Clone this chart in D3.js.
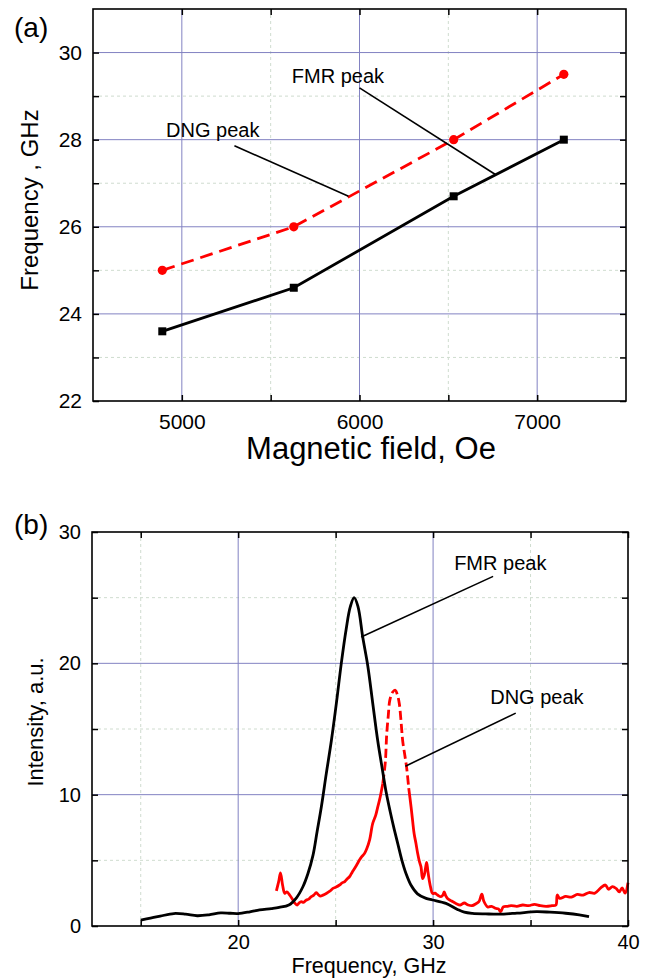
<!DOCTYPE html>
<html>
<head>
<meta charset="utf-8">
<script src="https://cdn.jsdelivr.net/npm/d3@7/dist/d3.min.js"></script>
<style>
  html, body { margin: 0; padding: 0; background: #fff; }
  svg { display: block; }
  text { font-family: "Liberation Sans", Arial, sans-serif; fill: #000; }
</style>
</head>
<body>
<svg id="chart" width="654" height="978"></svg>
<script>
// ---------- Panel (a): frequency vs magnetic field ----------
const fieldOe = [4890, 5630, 6530, 7150];
const fmrFreqA = [23.6, 24.6, 26.7, 28.0];
const dngFreqA = [25.0, 26.0, 28.0, 29.5];
const aXMajor = [5000, 6000, 7000];
const aXMinor = [5500, 6500];
const aYMajor = [22, 24, 26, 28, 30];
const aYMinor = [23, 25, 27, 29];

// ---------- Panel (b): spectra ----------
const fmrSpecFreq = [15.0, 15.5, 16.0, 16.7, 17.3, 17.9, 18.5, 19.1, 19.6, 20.0, 20.6, 21.1, 21.7, 22.1, 22.6, 22.99, 23.32, 23.58, 23.84, 24.05, 24.27, 24.52, 24.78, 25.05, 25.29, 25.54, 25.75, 25.95, 26.15, 26.39, 26.65, 26.9, 27.16, 27.4, 27.59, 27.8, 28.0, 28.2, 28.4, 28.61, 28.87, 29.2, 29.64, 29.97, 30.66, 31.25, 31.6, 32.02, 32.7, 33.4, 34.3, 35.3, 36.0, 36.8, 37.5, 38.0];
const fmrSpecInt  = [0.45, 0.6, 0.75, 0.95, 0.9, 0.78, 0.85, 1.0, 0.97, 0.95, 1.08, 1.22, 1.33, 1.42, 1.6, 2.15, 2.99, 4.0, 5.4, 7.2, 9.1, 11.6, 14.1, 17.1, 20.0, 22.6, 24.3, 25.0, 24.3, 22.0, 19.8, 17.0, 14.1, 11.9, 10.2, 8.7, 7.4, 6.2, 5.0, 4.0, 3.1, 2.45, 2.1, 1.98, 1.72, 1.26, 1.05, 0.96, 0.92, 0.9, 0.98, 1.09, 1.05, 0.97, 0.85, 0.71];

const dngSpecFreq = [21.96, 22.08, 22.17, 22.28, 22.39, 22.5, 22.64, 22.81, 22.9, 23.02, 23.12, 23.24, 23.35, 23.5, 23.62, 23.75, 23.88, 24.0, 24.1, 24.21, 24.35, 24.52, 24.7, 24.86, 25.0, 25.2, 25.35, 25.46, 25.6, 25.71, 25.85, 25.97, 26.1, 26.22, 26.35, 26.48, 26.6, 26.75, 26.9, 27.05, 27.15, 27.25, 27.35, 27.42,
  27.55, 27.62, 27.7, 27.78, 27.92, 28.06, 28.17, 28.27, 28.36, 28.44, 28.55, 28.64, 28.75,
  28.87, 28.95, 29.03, 29.12, 29.2, 29.3, 29.38, 29.46, 29.55, 29.62, 29.67, 29.73, 29.8, 29.88, 29.97, 30.1, 30.23, 30.4, 30.5, 30.57, 30.65, 30.74, 30.95, 31.17, 31.4, 31.6, 31.8, 32.0, 32.2, 32.35, 32.5, 32.6, 32.8, 33.0, 33.2, 33.35, 33.47, 33.6, 33.8, 34.0, 34.3, 34.6, 34.9, 35.2, 35.5, 35.8, 36.1, 36.3, 36.37, 36.5, 36.8, 37.1, 37.4, 37.7, 38.0, 38.3, 38.6, 38.84, 39.0, 39.2, 39.4, 39.55, 39.7, 39.85, 40.0];
const dngSpecInt = [2.68, 3.4, 4.05, 3.1, 2.48, 2.6, 2.36, 1.98, 1.75, 1.6, 1.75, 1.85, 1.8, 1.98, 2.05, 2.23, 2.35, 2.53, 2.4, 2.28, 2.35, 2.48, 2.65, 2.86, 2.95, 3.12, 3.3, 3.37, 3.6, 3.75, 4.1, 4.38, 4.7, 5.02, 5.3, 5.52, 5.9, 6.6, 7.8, 8.4, 9.0, 9.58, 10.3, 10.85,
  12.5, 14.6, 16.0, 17.2, 17.8, 17.95, 17.6, 16.9, 15.5, 14.1, 13.0, 12.1, 10.5,
  9.07, 8.0, 7.0, 6.3, 5.6, 4.9, 4.5, 3.6, 3.9, 4.5, 4.85, 4.2, 3.5, 2.9, 2.48, 2.5, 2.36, 2.23, 2.35, 2.6, 2.3, 2.1, 1.9, 1.72, 1.6, 1.75, 1.6, 1.55, 1.7, 1.85, 2.43, 1.9, 1.45, 1.5, 1.35, 1.3, 1.09, 1.45, 1.5, 1.55, 1.5, 1.6, 1.55, 1.65, 1.55, 1.5, 1.55, 1.6, 2.36, 2.1, 2.25, 2.2, 2.4, 2.35, 2.55, 2.5, 2.9, 3.12, 2.8, 3.0, 2.85, 2.6, 2.9, 2.5, 3.3];
const dngDashFrom = 27.42, dngDashTo = 28.75;

const bXMajor = [20, 30, 40];
const bXMinor = [15, 25, 35];
const bYMajor = [0, 10, 20, 30];
const bYMinor = [5, 15, 25];

// annotations (data units)
const annA = [
  { text: "FMR peak", tx: 5619, ty: 29.29, x1: 6000, y1: 29.19, x2: 6765, y2: 27.2 },
  { text: "DNG peak", tx: 4911, ty: 28.05, x1: 5296, y1: 27.86, x2: 5938, y2: 26.70 }
];
const annB = [
  { text: "FMR peak", tx: 31.08, ty: 27.07, x1: 33.08, y1: 26.62, x2: 26.31, y2: 22.0 },
  { text: "DNG peak", tx: 32.93, ty: 16.93, x1: 34.24, y1: 16.21, x2: 28.58, y2: 12.17 }
];

const svg = d3.select("#chart");
const MAJOR = "#8282c2", MINOR = "#cfdccf";

function drawFrame(g, x, y, xMaj, xMin, yMaj, yMin, w, h) {
  const grid = g.append("g");
  grid.selectAll(".vmin").data(xMin).join("line")
    .attr("x1", d => x(d)).attr("x2", d => x(d)).attr("y1", 0).attr("y2", h)
    .attr("stroke", MINOR).attr("stroke-width", 1).attr("stroke-dasharray", "3,3");
  grid.selectAll(".hmin").data(yMin).join("line")
    .attr("x1", 0).attr("x2", w).attr("y1", d => y(d)).attr("y2", d => y(d))
    .attr("stroke", MINOR).attr("stroke-width", 1).attr("stroke-dasharray", "3,3");
  grid.selectAll(".vmaj").data(xMaj.filter(d => x(d) > 1 && x(d) < w - 1)).join("line")
    .attr("x1", d => x(d)).attr("x2", d => x(d)).attr("y1", 0).attr("y2", h)
    .attr("stroke", MAJOR).attr("stroke-width", 1);
  grid.selectAll(".hmaj").data(yMaj.filter(d => y(d) > 1 && y(d) < h - 1)).join("line")
    .attr("x1", 0).attr("x2", w).attr("y1", d => y(d)).attr("y2", d => y(d))
    .attr("stroke", MAJOR).attr("stroke-width", 1);
}

function drawAxes(g, x, y, xMaj, xMin, yMaj, yMin, w, h, fs, xPad) {
  const fmtX = d => xMaj.includes(d) ? d : "";
  const fmtY = d => yMaj.includes(d) ? d : "";
  const ax = [
    g.append("g").attr("transform", `translate(0,${h})`)
      .call(d3.axisBottom(x).tickValues(xMaj.concat(xMin)).tickSize(-6).tickPadding(xPad).tickFormat(fmtX)),
    g.append("g")
      .call(d3.axisTop(x).tickValues(xMaj.concat(xMin)).tickSize(-6).tickFormat("")),
    g.append("g")
      .call(d3.axisLeft(y).tickValues(yMaj.concat(yMin)).tickSize(-6).tickPadding(11).tickFormat(fmtY)),
    g.append("g").attr("transform", `translate(${w},0)`)
      .call(d3.axisRight(y).tickValues(yMaj.concat(yMin)).tickSize(-6).tickFormat(""))
  ];
  ax.forEach(a => {
    a.select(".domain").remove();
    a.selectAll(".tick line").attr("stroke", "#000").attr("stroke-width", 1.5);
    a.selectAll("text").attr("font-size", fs).attr("font-family", "Liberation Sans, Arial, sans-serif").attr("fill", "#000");
  });
  g.append("rect").attr("x", 0).attr("y", 0).attr("width", w).attr("height", h)
    .attr("fill", "none").attr("stroke", "#000").attr("stroke-width", 1.6);
}

function drawAnnotations(g, x, y, list) {
  list.forEach(a => {
    g.append("text").attr("x", x(a.tx)).attr("y", y(a.ty)).attr("font-size", 20).text(a.text);
    g.append("line").attr("x1", x(a.x1)).attr("y1", y(a.y1)).attr("x2", x(a.x2)).attr("y2", y(a.y2))
      .attr("stroke", "#000").attr("stroke-width", 1.6);
  });
}

// ================= Panel (a) =================
{
  const L = 93, T = 9, R = 626, B = 401;
  const w = R - L, h = B - T;
  const g = svg.append("g").attr("transform", `translate(${L},${T})`);
  const x = d3.scaleLinear().domain([4500, 7500]).range([0, w]);
  const y = d3.scaleLinear().domain([22, 31]).range([h, 0]);
  drawFrame(g, x, y, aXMajor, aXMinor, aYMajor, aYMinor, w, h);

  const ptsF = fieldOe.map((f, i) => [f, fmrFreqA[i]]);
  const ptsD = fieldOe.map((f, i) => [f, dngFreqA[i]]);
  const line = d3.line().x(d => x(d[0])).y(d => y(d[1]));

  g.append("path").attr("d", line(ptsD)).attr("fill", "none").attr("stroke", "#ff0000")
    .attr("stroke-width", 2.8).attr("stroke-dasharray", "13,7");
  g.append("path").attr("d", line(ptsF)).attr("fill", "none").attr("stroke", "#000")
    .attr("stroke-width", 2.8);
  g.selectAll(".circ").data(ptsD).join("circle")
    .attr("cx", d => x(d[0])).attr("cy", d => y(d[1])).attr("r", 4.6).attr("fill", "#ff0000");
  g.selectAll(".sq").data(ptsF).join("rect")
    .attr("x", d => x(d[0]) - 4).attr("y", d => y(d[1]) - 4).attr("width", 8).attr("height", 8).attr("fill", "#000");

  drawAnnotations(g, x, y, annA);
  drawAxes(g, x, y, aXMajor, aXMinor, aYMajor, aYMinor, w, h, 21, 13);

  svg.append("text").attr("x", 14).attr("y", 37).attr("font-size", 28).text("(a)");
  svg.append("text").attr("transform", "translate(38,200) rotate(-90)")
    .attr("text-anchor", "middle").attr("font-size", 24).text("Frequency , GHz");
  svg.append("text").attr("x", 371).attr("y", 459).attr("text-anchor", "middle")
    .attr("font-size", 31).text("Magnetic field, Oe");
}

// ================= Panel (b) =================
{
  const L = 92, T = 532, R = 628, B = 926;
  const w = R - L, h = B - T;
  const g = svg.append("g").attr("transform", `translate(${L},${T})`);
  const x = d3.scaleLinear().domain([12.5, 40]).range([0, w]);
  const y = d3.scaleLinear().domain([0, 30]).range([h, 0]);
  drawFrame(g, x, y, bXMajor, bXMinor, bYMajor, bYMinor, w, h);

  const line = d3.line().x(d => x(d[0])).y(d => y(d[1])).curve(d3.curveCatmullRom.alpha(0.5));
  const dng = dngSpecFreq.map((f, i) => [f, dngSpecInt[i]]);
  const seg1 = dng.filter(d => d[0] <= dngDashFrom);
  const seg2 = dng.filter(d => d[0] >= dngDashFrom && d[0] <= dngDashTo);
  const seg3 = dng.filter(d => d[0] >= dngDashTo);
  [seg1, seg3].forEach(s => g.append("path").attr("d", line(s)).attr("fill", "none")
    .attr("stroke", "#ff0000").attr("stroke-width", 2.8).attr("stroke-linejoin", "round"));
  g.append("path").attr("d", line(seg2)).attr("fill", "none")
    .attr("stroke", "#ff0000").attr("stroke-width", 2.8).attr("stroke-dasharray", "9,4");

  const fmr = fmrSpecFreq.map((f, i) => [f, fmrSpecInt[i]]);
  g.append("path").attr("d", line(fmr)).attr("fill", "none")
    .attr("stroke", "#000").attr("stroke-width", 2.8).attr("stroke-linejoin", "round");

  drawAnnotations(g, x, y, annB);
  drawAxes(g, x, y, bXMajor, bXMinor, bYMajor, bYMinor, w, h, 20, 9);

  svg.append("text").attr("x", 14).attr("y", 534).attr("font-size", 28).text("(b)");
  svg.append("text").attr("transform", "translate(43,722) rotate(-90)")
    .attr("text-anchor", "middle").attr("font-size", 22).text("Intensity, a.u.");
  svg.append("text").attr("x", 369).attr("y", 973.2).attr("text-anchor", "middle")
    .attr("font-size", 21.5).text("Frequency, GHz");
}
</script>
</body>
</html>
